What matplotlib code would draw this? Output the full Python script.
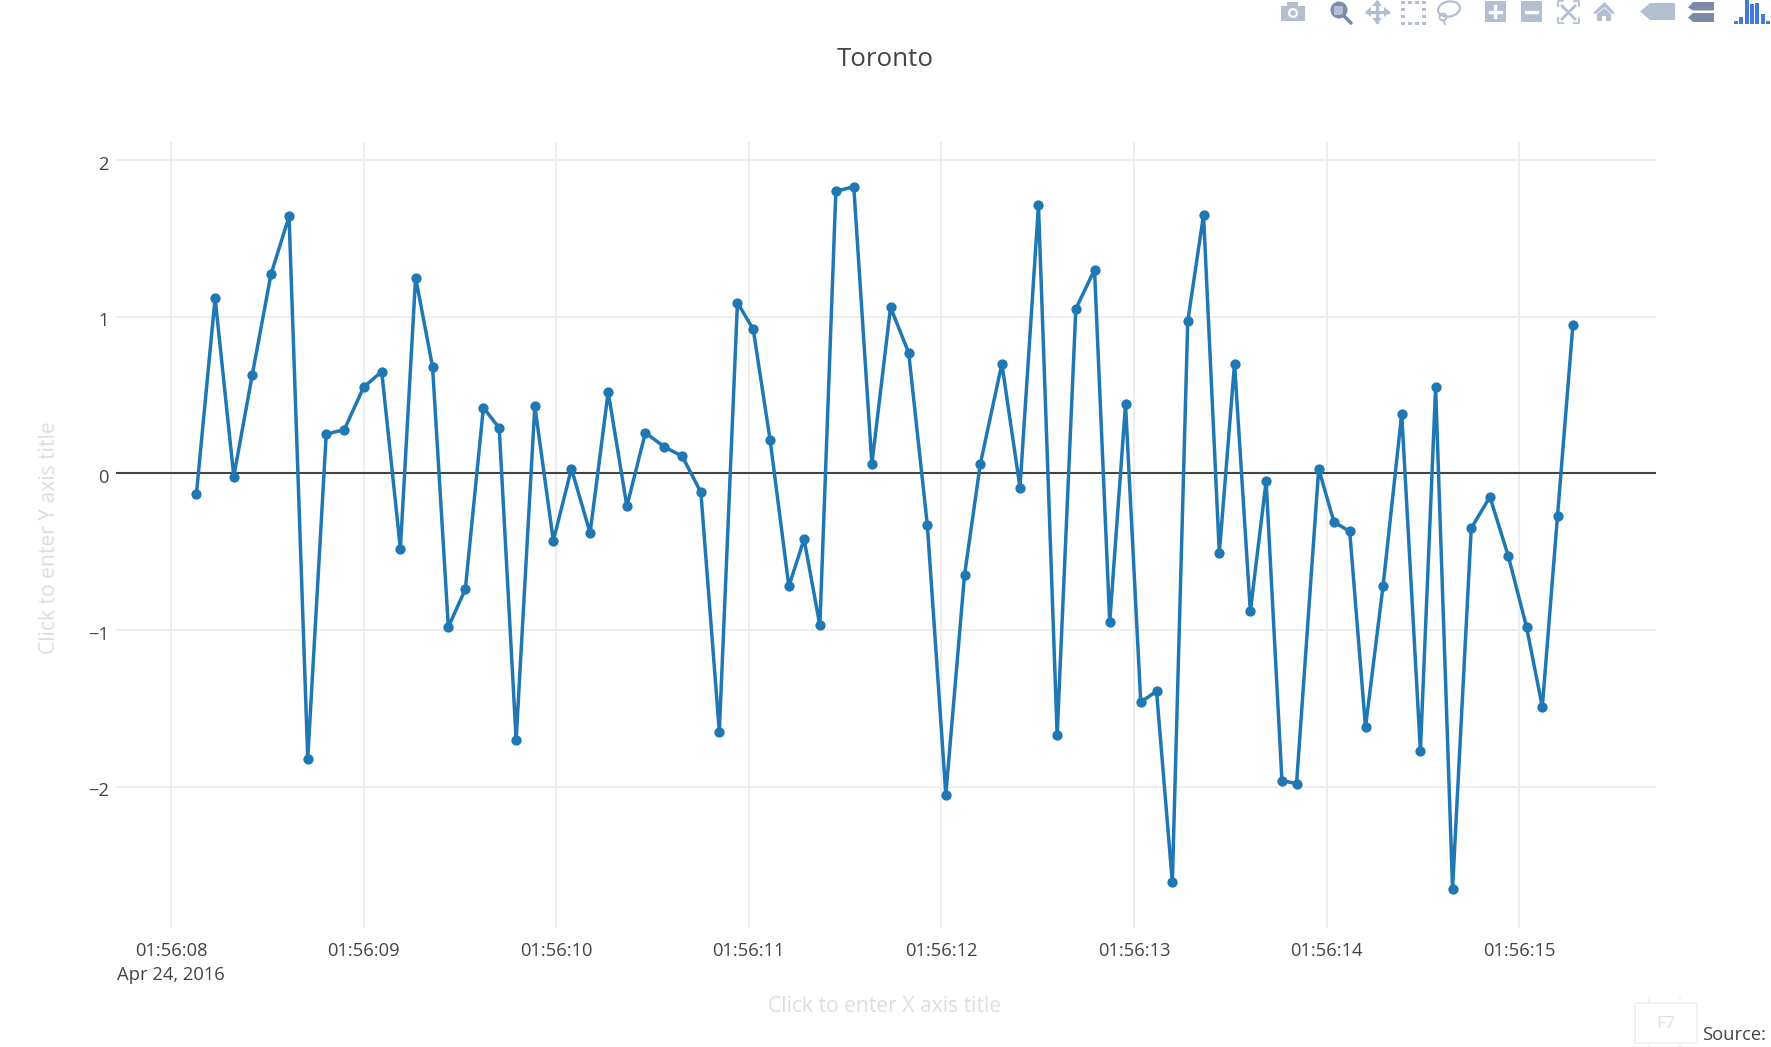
import matplotlib
matplotlib.use("Agg")
import matplotlib.pyplot as plt
from matplotlib.patches import Rectangle, Polygon, Circle, Ellipse
from matplotlib.transforms import ScaledTranslation
from datetime import datetime, timedelta
import matplotlib.dates as mdates

plt.rcParams['font.family'] = ['Open Sans', 'DejaVu Sans']

seconds = [8.132, 8.229, 8.326, 8.422, 8.519, 8.613, 8.710, 8.806, 8.900, 9.000,
           9.094, 9.191, 9.270, 9.358, 9.440, 9.528, 9.622, 9.704, 9.792, 9.889,
           9.985, 10.079, 10.176, 10.270, 10.367, 10.463, 10.560, 10.654, 10.751, 10.847,
           10.941, 11.023, 11.111, 11.208, 11.287, 11.369, 11.452, 11.545, 11.639, 11.736,
           11.830, 11.927, 12.023, 12.120, 12.202, 12.314, 12.408, 12.504, 12.601, 12.698,
           12.795, 12.874, 12.956, 13.035, 13.117, 13.199, 13.279, 13.361, 13.443, 13.522,
           13.604, 13.686, 13.768, 13.844, 13.959, 14.038, 14.120, 14.202, 14.293, 14.390,
           14.487, 14.566, 14.654, 14.751, 14.848, 14.944, 15.038, 15.120, 15.199, 15.279]
values = [-0.13, 1.12, -0.02, 0.63, 1.27, 1.64, -1.82, 0.25, 0.28, 0.55,
          0.65, -0.48, 1.25, 0.68, -0.98, -0.74, 0.42, 0.29, -1.70, 0.43,
          -0.43, 0.03, -0.38, 0.52, -0.21, 0.26, 0.17, 0.11, -0.12, -1.65,
          1.09, 0.92, 0.21, -0.72, -0.42, -0.97, 1.80, 1.83, 0.06, 1.06,
          0.77, -0.33, -2.05, -0.65, 0.06, 0.70, -0.09, 1.71, -1.67, 1.05,
          1.30, -0.95, 0.44, -1.46, -1.39, -2.61, 0.97, 1.65, -0.51, 0.70,
          -0.88, -0.05, -1.96, -1.98, 0.03, -0.31, -0.37, -1.62, -0.72, 0.38,
          -1.77, 0.55, -2.65, -0.35, -0.15, -0.53, -0.98, -1.49, -0.27, 0.95]
tick_seconds = [8, 9, 10, 11, 12, 13, 14, 15]
tick_labels = ['01:56:08\nApr 24, 2016', '01:56:09', '01:56:10', '01:56:11',
               '01:56:12', '01:56:13', '01:56:14', '01:56:15']
y_ticks = [-2, -1, 0, 1, 2]
y_labels = ['\u22122', '\u22121', '0', '1', '2']

W, H = 1771, 1047
L, R, T, B = 116, 1656, 142, 928
base = datetime(2016, 4, 24, 1, 56, 0)
def dt(s):
    return base + timedelta(seconds=s)

fig = plt.figure(figsize=(W / 100, H / 100), dpi=100, facecolor='white')
ax = fig.add_axes([L / W, 1 - B / H, (R - L) / W, (B - T) / H])

px_per_s, x8 = 192.6, 171.0
px_per_u, y0 = 156.7, 473.4
ax.set_xlim(dt(8 + (L - x8) / px_per_s), dt(8 + (R - x8) / px_per_s))
ax.set_ylim((y0 - B) / px_per_u, (y0 - T) / px_per_u)

ax.plot([dt(s) for s in seconds], values, color='#1f77b4', lw=2.5,
        marker='o', ms=7.4, mew=0, zorder=4, solid_joinstyle='miter')

ax.set_xticks([mdates.date2num(dt(s)) for s in tick_seconds])
ax.set_xticklabels(tick_labels, fontsize=13.2, color='#444444', linespacing=1.42, ha='center', va='top')
ax.set_yticks(y_ticks)
ax.set_yticklabels(y_labels, fontsize=13.2, color='#444444')
ax.tick_params(length=0, pad=10)
ax.tick_params(axis='y', pad=5)
shift = ScaledTranslation(0, -2.5 / 100, fig.dpi_scale_trans)
for lab in ax.get_yticklabels():
    lab.set_transform(lab.get_transform() + shift)
ax.grid(True, color='#eeeeee', lw=1.4, zorder=0)
ax.set_axisbelow(True)
ax.axhline(0, color='#444444', lw=1.5, zorder=3)
for s in ax.spines.values():
    s.set_visible(False)

fig.text(885 / W, 1 - 59 / H, 'Toronto', fontsize=18.6, color='#444444', ha='center', va='center')
fig.text(885 / W, 1 - 1007 / H, 'Click to enter X axis title', fontsize=15.2,
         color='#dedede', ha='center', va='center')
fig.text(50 / W, 1 - 538 / H, 'Click to enter Y axis title', fontsize=15.2,
         color='#dedede', ha='center', va='center', rotation=90)

# overlay in pixel coordinates: modebar and the F7 / Source corner
ov = fig.add_axes([0, 0, 1, 1], zorder=10)
ov.set_xlim(0, W)
ov.set_ylim(H, 0)
ov.axis('off')
ov.patch.set_alpha(0)
LT, DK, BL = '#b3bfd1', '#7c8aa8', '#447adb'

# camera
ov.add_patch(Rectangle((1281, 6), 24, 15, fc=LT, ec='none'))
ov.add_patch(Rectangle((1287, 2), 11, 5, fc=LT, ec='none'))
ov.add_patch(Circle((1293, 13), 5, fc='white', ec='none'))
ov.add_patch(Circle((1293, 13), 2.8, fc=LT, ec='none'))
# zoom
ov.plot([1343, 1351], [15, 23], color=DK, lw=2.6, solid_capstyle='round')
ov.add_patch(Circle((1339, 10), 8.5, fc=DK, ec='none'))
ov.add_patch(Rectangle((1334.5, 5.5), 9, 9, fc=LT, ec='none'))
# pan
ov.plot([1377, 1377], [2, 22], color=LT, lw=2.4)
ov.plot([1367, 1388], [12, 12], color=LT, lw=2.4)
for pts in ([(1377, 0), (1372, 6), (1382, 6)], [(1377, 24), (1372, 18), (1382, 18)],
            [(1365, 12), (1371, 7), (1371, 17)], [(1390, 12), (1384, 7), (1384, 17)]):
    ov.add_patch(Polygon(pts, fc=LT, ec='none'))
# box select
for x in (1401, 1408, 1415, 1422):
    for y in (1, 22):
        ov.add_patch(Rectangle((x, y), 4, 3, fc=LT, ec='none'))
for x in (1401, 1422):
    for y in (8, 15):
        ov.add_patch(Rectangle((x, y), 4, 3, fc=LT, ec='none'))
# lasso
ov.add_patch(Ellipse((1449, 9), 22, 15, angle=-10, fc='none', ec=LT, lw=1.6))
ov.add_patch(Circle((1443, 17), 3.5, fc='none', ec=LT, lw=1.4))
ov.plot([1443, 1445], [20, 24], color=LT, lw=1.4)
# zoom in / out
ov.add_patch(Rectangle((1485, 1), 21, 21, fc=LT, ec='none'))
ov.plot([1495.5, 1495.5], [6, 17], color='white', lw=2.4)
ov.plot([1490, 1501], [11.5, 11.5], color='white', lw=2.4)
ov.add_patch(Rectangle((1521, 1), 21, 21, fc=LT, ec='none'))
ov.plot([1526, 1537], [11.5, 11.5], color='white', lw=2.4)
# autoscale
for xs, ys in (([1558, 1558, 1563], [6, 1, 1]), ([1574, 1579, 1579], [1, 1, 6]),
               ([1558, 1558, 1563], [18, 23, 23]), ([1574, 1579, 1579], [23, 23, 18])):
    ov.plot(xs, ys, color=LT, lw=1.3)
ov.plot([1562, 1575], [6, 19], color=LT, lw=2)
ov.plot([1562, 1575], [19, 6], color=LT, lw=2)
# home
ov.add_patch(Polygon([(1593, 13), (1604.5, 2), (1615, 13), (1612, 14), (1604.5, 7), (1596, 14)], fc=LT, ec='none'))
ov.add_patch(Polygon([(1597, 14), (1604.5, 8), (1611, 14), (1611, 21), (1606, 21), (1606, 16), (1602, 16), (1602, 21), (1597, 21)], fc=LT, ec='none'))
# hover closest
ov.add_patch(Polygon([(1640, 11.5), (1650, 3), (1675, 3), (1675, 20), (1650, 20)], fc=LT, ec='none'))
# hover compare
ov.add_patch(Polygon([(1688, 7.5), (1693, 2), (1714, 2), (1714, 10.5), (1693, 10.5)], fc=DK, ec='none'))
ov.add_patch(Polygon([(1688, 17.5), (1693, 13), (1714, 13), (1714, 22), (1693, 22)], fc=DK, ec='none'))
# plotly logo bars
for x, top in zip((1734, 1739, 1745, 1750, 1755, 1761, 1766), (21, 17, 0, 4, 3, 14, 21)):
    ov.add_patch(Rectangle((x, top), 4, 24 - top, fc=BL, ec='none'))

# F7 box and source
ov.add_patch(Rectangle((1635, 1003), 62, 40, fc='white', ec='#f2f2f2', lw=1.4))
for x in (1649.5, 1680.5):
    ov.plot([x, x], [997, 1003], color='#f2f2f2', lw=1.2)
    ov.plot([x, x], [1043, 1047], color='#f2f2f2', lw=1.2)
ov.text(1666, 1024, 'F7', fontsize=12.6, color='#e0e0e0', ha='center', va='center')
ov.text(1702, 1035.5, 'Source:', fontsize=13.2, color='#444444', ha='left', va='center')

fig.savefig('out.png', dpi=100, facecolor='white')
